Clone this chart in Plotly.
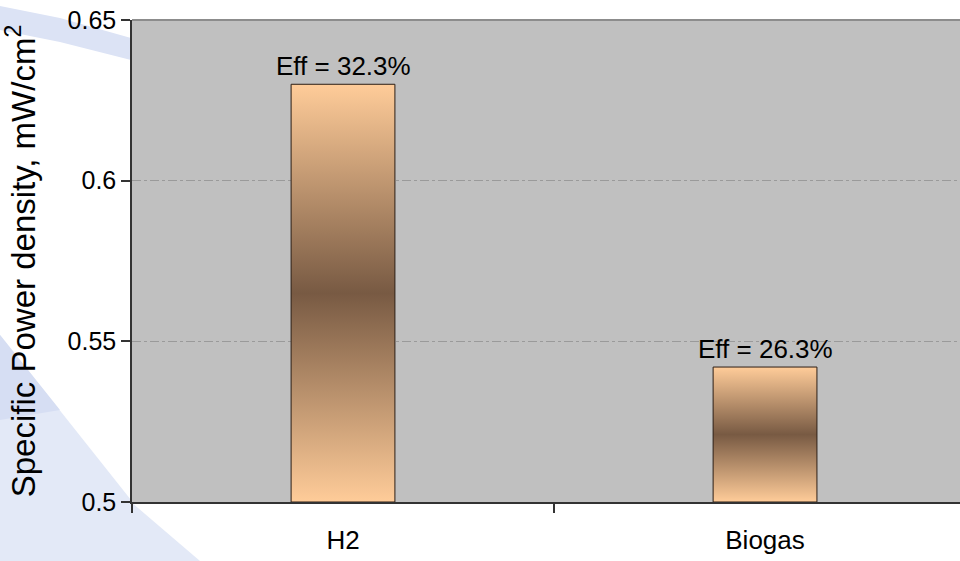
import plotly.graph_objects as go

categories = ["H2", "Biogas"]
power_density = [0.630, 0.542]
efficiency_pct = [32.3, 26.3]
y_ticks = [0.5, 0.55, 0.6, 0.65]

BAR_WIDTH = 0.246
BASE = 0.5
FONT = "Liberation Sans, Arial, sans-serif"

fig = go.Figure()

for i, (cat, val) in enumerate(zip(categories, power_density)):
    x0, x1 = i - BAR_WIDTH / 2, i + BAR_WIDTH / 2
    fig.add_trace(go.Scatter(
        x=[x0, x1, x1, x0, x0],
        y=[BASE, BASE, val, val, BASE],
        mode="lines",
        fill="toself",
        fillgradient=dict(
            type="vertical",
            colorscale=[[0, "#FFCC99"], [0.5, "#785A43"], [1, "#FFCC99"]],
        ),
        line=dict(color="#2b1d14", width=1),
        name=cat,
        hoverinfo="skip",
        showlegend=False,
    ))

for i, (val, eff) in enumerate(zip(power_density, efficiency_pct)):
    fig.add_annotation(
        x=i, y=val, xref="x", yref="y",
        text=f"Eff = {eff}%",
        showarrow=False, yanchor="bottom", yshift=1,
        font=dict(family=FONT, size=26, color="black"),
    )

# decorative slide swooshes (left side)
def px2paper(px, py):
    return (px - 132) / 828, (502 - py) / 482

def path(points):
    pts = [px2paper(x, y) for x, y in points]
    return "M " + " L ".join(f"{x:.4f},{y:.4f}" for x, y in pts) + " Z"

fig.add_shape(type="path", xref="paper", yref="paper", layer="below",
              path=path([(0, 335), (131, 500), (131, 502), (200, 561), (0, 561)]),
              fillcolor="#E3E9F7", line=dict(width=0))
fig.add_shape(type="path", xref="paper", yref="paper", layer="below",
              path=path([(0, 335), (60, 410), (0, 420)]),
              fillcolor="#D6DEF3", line=dict(width=0))
fig.add_shape(type="path", xref="paper", yref="paper", layer="below",
              path=path([(0, 6), (60, 18), (131, 38), (131, 60), (60, 42), (0, 30)]),
              fillcolor="#DCE3F5", line=dict(width=0))

# top border line
fig.add_shape(type="line", xref="paper", yref="paper", x0=0, x1=1, y0=1, y1=1,
              line=dict(color="#8c8c8c", width=2))

fig.update_layout(
    width=960, height=561,
    margin=dict(l=132, r=0, t=20, b=59, autoexpand=False),
    paper_bgcolor="white",
    plot_bgcolor="#C0C0C0",
    font=dict(family=FONT, size=25, color="black"),
    xaxis=dict(
        range=[-0.5, 1.462], automargin=False,
        tickmode="array", tickvals=list(range(len(categories))), ticktext=categories,
        ticks="", showgrid=False, zeroline=False,
        showline=True, linecolor="#333333", linewidth=1.5,
        tickfont=dict(family=FONT, size=26),
        minor=dict(tickmode="array", tickvals=[-0.5, 0.5, 1.5], ticks="outside",
                   ticklen=9, tickcolor="#333333", tickwidth=1.5, showgrid=False),
        ticklabelstandoff=14,
    ),
    yaxis=dict(
        range=[0.5, 0.65], automargin=False,
        tickmode="array", tickvals=y_ticks, ticktext=[f"{v:g}" for v in y_ticks],
        ticks="outside", ticklen=9, tickcolor="#333333", tickwidth=1.5,
        showline=True, linecolor="#333333", linewidth=1.5,
        showgrid=True, gridcolor="#9a9a9a", griddash="dashdot", gridwidth=1,
        zeroline=False,
        tickfont=dict(family=FONT, size=25),
        title=dict(text="Specific Power density, mW/cm<sup>2</sup>",
                   font=dict(family=FONT, size=33), standoff=38),
    ),
)

fig.write_html(
    "out.html",
    config={"displayModeBar": False},
    post_script="document.body.style.margin='0';document.body.style.overflow='hidden';",
)
